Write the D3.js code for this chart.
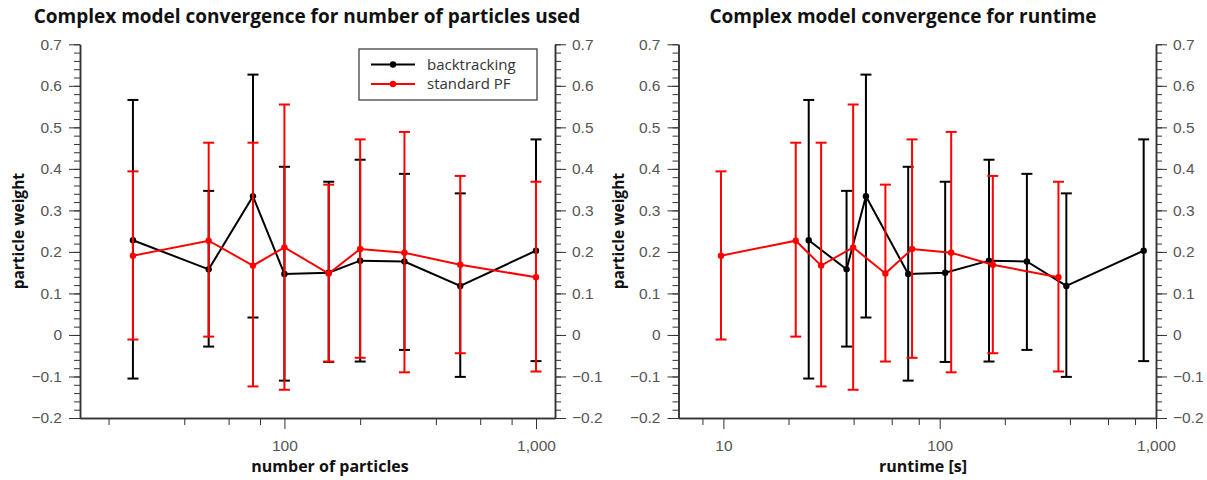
<!DOCTYPE html>
<html>
<head>
<meta charset="utf-8">
<script src="https://cdn.jsdelivr.net/npm/d3@7"></script>
<style>
  body { margin: 0; background: #fff; }
  svg { display: block; font-family: "Open Sans", "Noto Sans", sans-serif; }
  .tick text { fill: #555; font-size: 15.5px; }
  .domain, .tick line { stroke: #333; }
</style>
</head>
<body>
<svg id="chart" width="1207" height="480"></svg>
<script>
// number of particles used per run
const particles = [25, 50, 75, 100, 150, 200, 300, 500, 1000];

// backtracking
const btMean  = [0.228, 0.158, 0.334, 0.147, 0.150, 0.179, 0.177, 0.118, 0.203];
const btUpper = [0.566, 0.347, 0.627, 0.405, 0.369, 0.422, 0.388, 0.341, 0.471];
const btLower = [-0.105, -0.028, 0.042, -0.110, -0.065, -0.064, -0.036, -0.101, -0.063];
const btRuntime = [24.8, 37.1, 45.6, 71.5, 106, 169, 253, 385, 877];

// standard PF
const pfMean  = [0.191, 0.227, 0.167, 0.211, 0.148, 0.207, 0.198, 0.169, 0.139];
const pfUpper = [0.394, 0.463, 0.463, 0.555, 0.362, 0.471, 0.489, 0.383, 0.369];
const pfLower = [-0.011, -0.004, -0.124, -0.132, -0.064, -0.055, -0.090, -0.044, -0.088];
const pfRuntime = [9.75, 21.6, 28.3, 39.8, 56.1, 74.5, 113, 176, 354];

const yTicks = [-0.2, -0.1, 0, 0.1, 0.2, 0.3, 0.4, 0.5, 0.6, 0.7];
const xMajor = [10, 100, 1000];
const xMinor = [8, 20, 40, 60, 80, 200, 400, 600, 800];

const svg = d3.select("#chart");
const plotTop = 44.3, plotBottom = 418;

const y = d3.scaleLinear().domain([-0.2, 0.7]).range([plotBottom, plotTop]);
const yMinor = d3.range(-0.2, 0.7001, 0.02).map((v) => +v.toFixed(2));
const fmtY = (d) => (d < 0 ? "\u2212" + Math.abs(d) : String(d));

const panels = [
  {
    left: 80, right: 555, domain: [15.4, 1190],
    title: "Complex model convergence for number of particles used", titleX: 307,
    xLabel: "number of particles", xLabelX: 330, yLabelX: 24,
    btX: particles, pfX: particles,
  },
  {
    left: 678.5, right: 1156, domain: [6.2, 1000],
    title: "Complex model convergence for runtime", titleX: 903,
    xLabel: "runtime [s]", xLabelX: 923, yLabelX: 624,
    btX: btRuntime, pfX: pfRuntime,
  },
];

panels.forEach((p) => {
  const x = d3.scaleLog().domain(p.domain).range([p.left, p.right]);
  const inside = (v) => v >= p.domain[0] && v <= p.domain[1];
  const g = svg.append("g");

  // y axes on both sides
  g.append("g").attr("transform", `translate(${p.left},0)`)
    .call(d3.axisLeft(y).tickValues(yMinor).tickSize(6).tickSizeOuter(0).tickFormat(""));
  g.append("g").attr("transform", `translate(${p.left},0)`)
    .call(d3.axisLeft(y).tickValues(yTicks).tickSize(11).tickSizeOuter(0).tickPadding(7).tickFormat(fmtY));
  g.append("g").attr("transform", `translate(${p.right},0)`)
    .call(d3.axisRight(y).tickValues(yMinor).tickSize(6).tickSizeOuter(0).tickFormat(""));
  g.append("g").attr("transform", `translate(${p.right},0)`)
    .call(d3.axisRight(y).tickValues(yTicks).tickSize(11).tickSizeOuter(0).tickPadding(6).tickFormat(fmtY));

  // x axis
  g.append("g").attr("transform", `translate(0,${plotBottom})`)
    .call(d3.axisBottom(x).tickValues(xMinor.filter(inside)).tickSize(7).tickSizeOuter(0).tickFormat(""));
  g.append("g").attr("transform", `translate(0,${plotBottom})`)
    .call(d3.axisBottom(x).tickValues(xMajor.filter(inside)).tickSize(11).tickSizeOuter(0)
      .tickPadding(11).tickFormat(d3.format(",")));

  g.selectAll(".domain").attr("stroke-width", 1.5);

  g.append("text")
    .attr("x", p.titleX).attr("y", 23)
    .attr("text-anchor", "middle")
    .attr("font-weight", "bold").attr("font-size", 19).attr("fill", "#111")
    .text(p.title);

  g.append("text")
    .attr("x", p.xLabelX).attr("y", 472)
    .attr("text-anchor", "middle")
    .attr("font-weight", "bold").attr("font-size", 16).attr("fill", "#111")
    .text(p.xLabel);

  g.append("text")
    .attr("transform", `translate(${p.yLabelX},${(plotTop + plotBottom) / 2}) rotate(-90)`)
    .attr("text-anchor", "middle")
    .attr("font-weight", "bold").attr("font-size", 15.5).attr("fill", "#111")
    .text("particle weight");

  const series = [
    { xs: p.btX, mean: btMean, hi: btUpper, lo: btLower, color: "#000" },
    { xs: p.pfX, mean: pfMean, hi: pfUpper, lo: pfLower, color: "#ff0000" },
  ];

  series.forEach((s) => {
    const pts = s.xs.map((v, i) => ({ x: v, m: s.mean[i], hi: s.hi[i], lo: s.lo[i] }));
    const sg = g.append("g");

    sg.append("path")
      .datum(pts)
      .attr("fill", "none")
      .attr("stroke", s.color)
      .attr("stroke-width", 2)
      .attr("d", d3.line().x((d) => x(d.x)).y((d) => y(d.m)));

    const bars = sg.selectAll(".err").data(pts).enter().append("g").attr("class", "err")
      .attr("stroke", s.color).attr("stroke-width", 2);
    bars.append("line")
      .attr("x1", (d) => x(d.x)).attr("x2", (d) => x(d.x))
      .attr("y1", (d) => y(d.lo)).attr("y2", (d) => y(d.hi));
    bars.append("line")
      .attr("x1", (d) => x(d.x) - 5.5).attr("x2", (d) => x(d.x) + 5.5)
      .attr("y1", (d) => y(d.hi)).attr("y2", (d) => y(d.hi));
    bars.append("line")
      .attr("x1", (d) => x(d.x) - 5.5).attr("x2", (d) => x(d.x) + 5.5)
      .attr("y1", (d) => y(d.lo)).attr("y2", (d) => y(d.lo));

    sg.selectAll(".dot").data(pts).enter().append("circle")
      .attr("cx", (d) => x(d.x)).attr("cy", (d) => y(d.m))
      .attr("r", 3.2).attr("fill", s.color);
  });
});

// legend (left panel)
const legend = svg.append("g").attr("transform", "translate(359,49)");
legend.append("rect")
  .attr("width", 178).attr("height", 51)
  .attr("fill", "#fff").attr("stroke", "#333").attr("stroke-width", 1.2);
[
  { label: "backtracking", color: "#000" },
  { label: "standard PF", color: "#ff0000" },
].forEach((d, i) => {
  const row = legend.append("g").attr("transform", `translate(0,${15.5 + i * 19.5})`);
  row.append("line").attr("x1", 12).attr("x2", 56)
    .attr("stroke", d.color).attr("stroke-width", 2);
  row.append("circle").attr("cx", 34).attr("r", 3.2).attr("fill", d.color);
  row.append("text").attr("x", 68).attr("dy", "0.35em")
    .attr("font-size", 15).attr("fill", "#333").text(d.label);
});
</script>
</body>
</html>
